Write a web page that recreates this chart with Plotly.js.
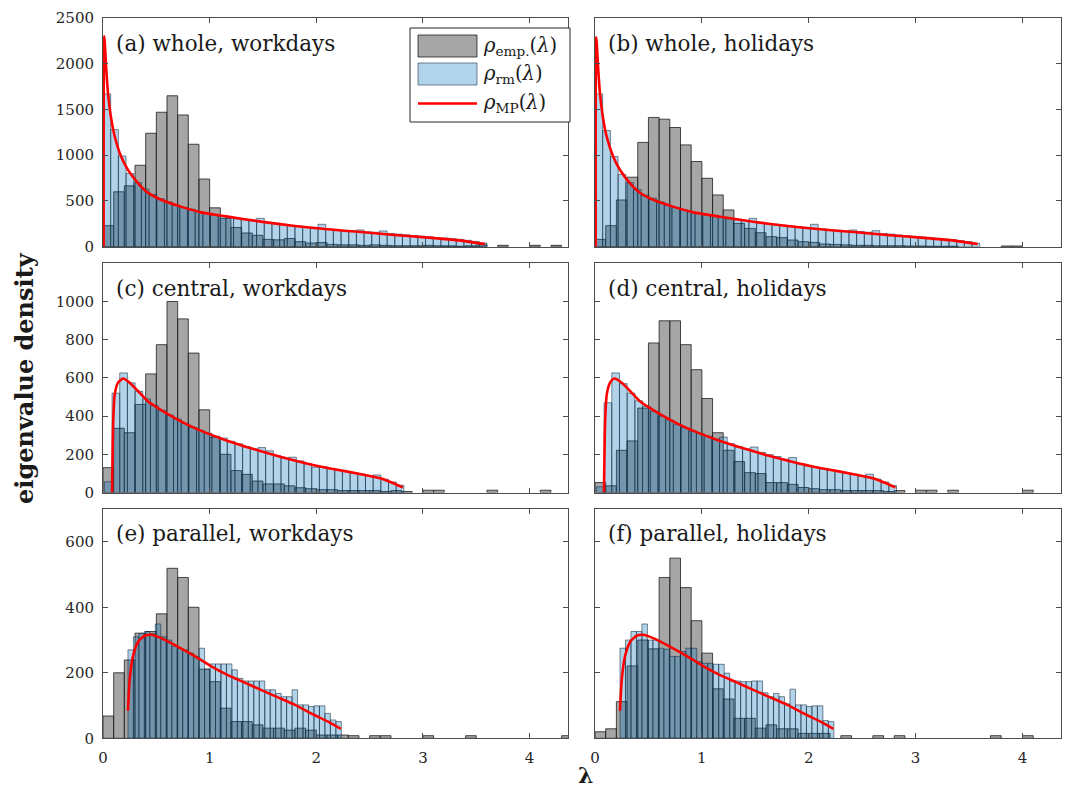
<!DOCTYPE html>
<html><head><meta charset="utf-8">
<script src="https://cdn.plot.ly/plotly-3.0.1.min.js"></script>
<style>body{margin:0;background:#fff}#chart{width:1070px;height:791px}</style>
</head><body><div id="chart"></div>
<script>
// ---------- data ----------
const panelLabels = ['(a) whole, workdays','(b) whole, holidays','(c) central, workdays','(d) central, holidays','(e) parallel, workdays','(f) parallel, holidays'];
const legendLabels = ['<i>ρ</i><sub>emp.</sub>(<i>λ</i>)','<i>ρ</i><sub>rm</sub>(<i>λ</i>)','<i>ρ</i><sub>MP</sub>(<i>λ</i>)'];
const xTicks = [0,1,2,3,4];
const yTicksRow1 = [0,500,1000,1500,2000,2500];
const yTicksRow2 = [0,200,400,600,800,1000];
const yTicksRow3 = [0,200,400,600];

// empirical histograms (bin width 0.1 starting at 0)
const grayStart = 0, grayWidth = 0.1;
const grayA = [230,600,665,890,1240,1470,1650,1440,1120,740, 425,310,210,150,125,80,75,90,55,40, 45,25,20,20,15,20,15,10,10,10, 15,10,10,5,10,20,0,15,0,0, 15,0,15];
const grayB = [80,230,511,760,1140,1413,1394,1303,1113,931, 748,566,402,255,200,153,110,99,73,55, 47,30,25,20,15,15,10,10,10,8, 8,5,5,5,0,0,0,0,8,8];
const grayC = [130,336,313,461,621,774,1000,909,730,433, 290,200,115,95,60,45,45,35,25,20, 15,15,10,10,10,10,5,10,5,0, 12,12,0,0,0,0,12,0,0,0, 0,12];
const grayD = [52,35,221,270,442,783,899,899,774,643, 492,313,221,162,104,99,52,52,43,26, 20,15,15,10,10,10,10,5,10,0, 12,12,0,12,0,0,0,0,0,0, 12];
const grayE = [68,200,239,321,326,380,519,491,400,211, 173,92,51,51,41,31,31,25,31,25, 10,10,10,8,0,8,8,0,0,0, 8,0,0,0,8,0,0,0,0,0, 0,0,0,8];
const grayF = [20,29,112,221,300,273,491,550,460,359, 260,151,120,61,61,31,41,29,29,15, 15,15,0,8,0,0,8,0,8,0, 0,0,0,0,0,0,0,8,0,0, 8];

// random-matrix histograms
const blueStartAB = 0, blueWidthAB = 0.072;
const blueA = [1670,1280,990,800,700,630,570,525,490,455, 430,410,385,365,345,335,320,305,295,285, 310,265,255,245,232,225,215,210,245,192, 185,178,172,183,162,158,172,145,138,130, 122,115,108,100,95,88,80,70,58,40];
const blueB = [1670,1270,985,790,700,625,565,530,490,450, 430,405,385,365,350,335,320,305,292,285, 310,262,252,245,235,225,218,210,245,195, 185,180,170,183,165,158,175,145,138,128, 120,112,105,100,92,85,78,68,56,38];
const blueStartCD = 0.013, blueWidthCD = 0.072;
const blueC = [56,520,626,574,530,490,455,430,405,385, 362,342,325,310,295,285,268,255,240,228, 235,218,192,182,185,165,150,132,135,125, 118,110,103,96,88,92,70,55,38];
const blueD = [30,470,626,570,520,480,450,425,400,380, 355,338,322,308,295,280,290,255,240,228, 238,210,198,188,175,183,150,140,132,125, 118,110,102,96,88,96,70,55,36];
const blueStartEF = 0.234, blueWidthEF = 0.0513;
const blueE = [270,310,320,326,320,349,310,300,280,275, 270,260,250,275,211,227,227,227,227,209, 183,175,175,175,175,148,148,137,127,127, 148,102,102,97,99,99,76,56,51];
const blueF = [275,300,326,326,349,300,300,275,272,250, 250,265,275,275,234,229,229,226,226,199, 175,175,173,173,175,175,139,127,137,127, 105,150,102,102,97,99,99,54,51];

// Marchenko-Pastur curves
const mpA_x = [0.006,0.012,0.03,0.047,0.078,0.11,0.17,0.234,0.33,0.42,0.55,0.73,0.92,1.17,1.48,1.8,2.11,2.42,2.73,3.05,3.36,3.58];
const mpA_y = [0,2300,1950,1680,1390,1205,985,840,693,591,511,438,375,329,274,226,190,160,128,99,66,29];
const mpB_x = [0.006,0.012,0.03,0.047,0.078,0.11,0.17,0.234,0.33,0.42,0.55,0.73,0.92,1.17,1.48,1.8,2.11,2.42,2.73,3.05,3.36,3.58];
const mpB_y = [0,2290,1940,1670,1385,1200,985,838,690,590,510,438,375,328,273,226,190,160,128,99,66,29];
const mpC_x = [0.085,0.096,0.11,0.14,0.19,0.25,0.33,0.42,0.55,0.67,0.8,0.95,1.17,1.42,1.67,1.92,2.17,2.42,2.6,2.73,2.81];
const mpC_y = [0,374,513,574,597,575,530,478,430,391,353,316,270,226,186,151,122,96,75,47,26];
const mpD_x = [0.084,0.095,0.11,0.14,0.18,0.25,0.33,0.42,0.55,0.67,0.8,0.95,1.17,1.42,1.67,1.92,2.17,2.42,2.6,2.73,2.81];
const mpD_y = [0,374,513,574,597,575,530,478,430,391,353,316,270,226,186,151,122,96,75,47,26];
const mpE_x = [0.234,0.25,0.28,0.33,0.39,0.45,0.55,0.70,0.86,1.02,1.17,1.33,1.48,1.64,1.8,1.95,2.11,2.23];
const mpE_y = [84,178,249,295,313,316,305,280,251,219,193,170,148,125,102,76,51,29];
const mpF_x = [0.234,0.25,0.28,0.33,0.39,0.45,0.55,0.70,0.86,1.02,1.17,1.33,1.48,1.64,1.8,1.95,2.11,2.23];
const mpF_y = [84,178,249,295,313,316,305,280,251,219,193,170,148,125,102,76,51,29];

// ---------- styling ----------
const FONT = 'DejaVu Serif';
const W = 1070, H = 791;
const GRAY = 'rgba(128,128,128,0.7)';
const BLUE = 'rgba(0,114,189,0.3)';
const GRAY_EDGE = 'rgba(20,20,20,0.75)';
const BLUE_EDGE = 'rgba(20,40,60,0.55)';
const RED = '#ff0000';

function bars(vals, start, width, xa, ya, color, lineColor) {
  const x = [], y = [];
  vals.forEach((v, i) => { if (v > 0) { x.push(start + (i + 0.5) * width); y.push(v); } });
  return {type:'bar', x, y, width, xaxis:xa, yaxis:ya, marker:{color, line:{color:lineColor, width:1}}, showlegend:false, hoverinfo:'skip'};
}
function curve(x, y, xa, ya) {
  return {type:'scatter', mode:'lines', x, y, xaxis:xa, yaxis:ya, line:{color:RED, width:2.6, shape:'spline', smoothing:0.6}, showlegend:false, hoverinfo:'skip'};
}

const panels = [
  {g:grayA, b:blueA, bs:blueStartAB, bw:blueWidthAB, mx:mpA_x, my:mpA_y},
  {g:grayB, b:blueB, bs:blueStartAB, bw:blueWidthAB, mx:mpB_x, my:mpB_y},
  {g:grayC, b:blueC, bs:blueStartCD, bw:blueWidthCD, mx:mpC_x, my:mpC_y},
  {g:grayD, b:blueD, bs:blueStartCD, bw:blueWidthCD, mx:mpD_x, my:mpD_y},
  {g:grayE, b:blueE, bs:blueStartEF, bw:blueWidthEF, mx:mpE_x, my:mpE_y},
  {g:grayF, b:blueF, bs:blueStartEF, bw:blueWidthEF, mx:mpF_x, my:mpF_y},
];

const traces = [];
panels.forEach((p, i) => {
  const xa = 'x' + (i ? i + 1 : ''), ya = 'y' + (i ? i + 1 : '');
  traces.push(bars(p.g, grayStart, grayWidth, xa, ya, GRAY, GRAY_EDGE));
  traces.push(bars(p.b, p.bs, p.bw, xa, ya, BLUE, BLUE_EDGE));
  traces.push(curve(p.mx, p.my, xa, ya));
});

const colDom = [[103/W, 568/W], [595/W, 1061/W]];
const rowPx = [[18, 246.7], [263.3, 492.5], [509, 738.3]];
const rowDom = rowPx.map(r => [1 - r[1]/H, 1 - r[0]/H]);
const yRanges = [[0,2500],[0,1200],[0,700]];
const yTicks = [yTicksRow1, yTicksRow2, yTicksRow3];
const AXC = '#4d4d4d';
const tickFont = {family:FONT, size:15, color:'#262626'};

const layout = {
  width:W, height:H, margin:{l:0,r:0,t:0,b:0}, paper_bgcolor:'#fff', plot_bgcolor:'#fff',
  barmode:'overlay', showlegend:false, shapes:[], annotations:[]
};
for (let i = 0; i < 6; i++) {
  const r = Math.floor(i/2), c = i % 2;
  const sfx = i ? String(i+1) : '';
  layout['xaxis'+sfx] = {domain:colDom[c], anchor:'y'+sfx, range:[0,4.36], tickvals:xTicks, ticktext:xTicks.map(String),
    ticks:'inside', ticklen:5, tickcolor:AXC, showline:true, linecolor:AXC, linewidth:1, mirror:'ticks',
    showgrid:false, zeroline:false, showticklabels:r===2, tickfont:tickFont, ticklabelstandoff:6, automargin:false, fixedrange:true};
  layout['yaxis'+sfx] = {domain:rowDom[r], anchor:'x'+sfx, range:yRanges[r], tickvals:yTicks[r], ticktext:yTicks[r].map(String),
    ticks:'inside', ticklen:5, tickcolor:AXC, showline:true, linecolor:AXC, linewidth:1, mirror:'ticks',
    showgrid:false, zeroline:false, showticklabels:c===0, tickfont:tickFont, ticklabelstandoff:5, automargin:false, fixedrange:true};
}

// panel labels
const labelPos = [[114,43],[606,43],[114,288],[606,288],[114,533],[606,533]];
panelLabels.forEach((t, i) => {
  layout.annotations.push({xref:'paper', yref:'paper', x:labelPos[i][0]/W, y:1-labelPos[i][1]/H, xanchor:'left', yanchor:'middle',
    text:t, showarrow:false, font:{family:FONT, size:21.5, color:'#1a1a1a'}});
});

// legend (drawn in panel a)
const P = (px) => px/W, Q = (py) => 1 - py/H;
layout.shapes.push({type:'rect', xref:'paper', yref:'paper', x0:P(410), x1:P(570), y0:Q(122), y1:Q(28), line:{color:'#262626', width:1}, fillcolor:'#fff'});
layout.shapes.push({type:'rect', xref:'paper', yref:'paper', x0:P(418), x1:P(477), y0:Q(57), y1:Q(35), line:{color:GRAY_EDGE, width:1}, fillcolor:GRAY});
layout.shapes.push({type:'rect', xref:'paper', yref:'paper', x0:P(418), x1:P(477), y0:Q(85), y1:Q(63), line:{color:BLUE_EDGE, width:1}, fillcolor:BLUE});
layout.shapes.push({type:'line', xref:'paper', yref:'paper', x0:P(418), x1:P(477), y0:Q(103.5), y1:Q(103.5), line:{color:RED, width:2.6}});
[46, 74, 103].forEach((py, i) => {
  layout.annotations.push({xref:'paper', yref:'paper', x:P(481), y:Q(py), xanchor:'left', yanchor:'middle', text:legendLabels[i],
    showarrow:false, font:{family:FONT, size:19.5, color:'#1a1a1a'}});
});

// axis titles
layout.annotations.push({xref:'paper', yref:'paper', x:P(24), y:Q(378), xanchor:'center', yanchor:'middle', textangle:-90,
  text:'<b>eigenvalue density</b>', showarrow:false, font:{family:FONT, size:24, color:'#1a1a1a'}});
layout.annotations.push({xref:'paper', yref:'paper', x:P(585), y:Q(775), xanchor:'center', yanchor:'middle',
  text:'<b>λ</b>', showarrow:false, font:{family:FONT, size:22, color:'#1a1a1a'}});

Plotly.newPlot('chart', traces, layout, {staticPlot:true, displayModeBar:false});
</script>
</body></html>
